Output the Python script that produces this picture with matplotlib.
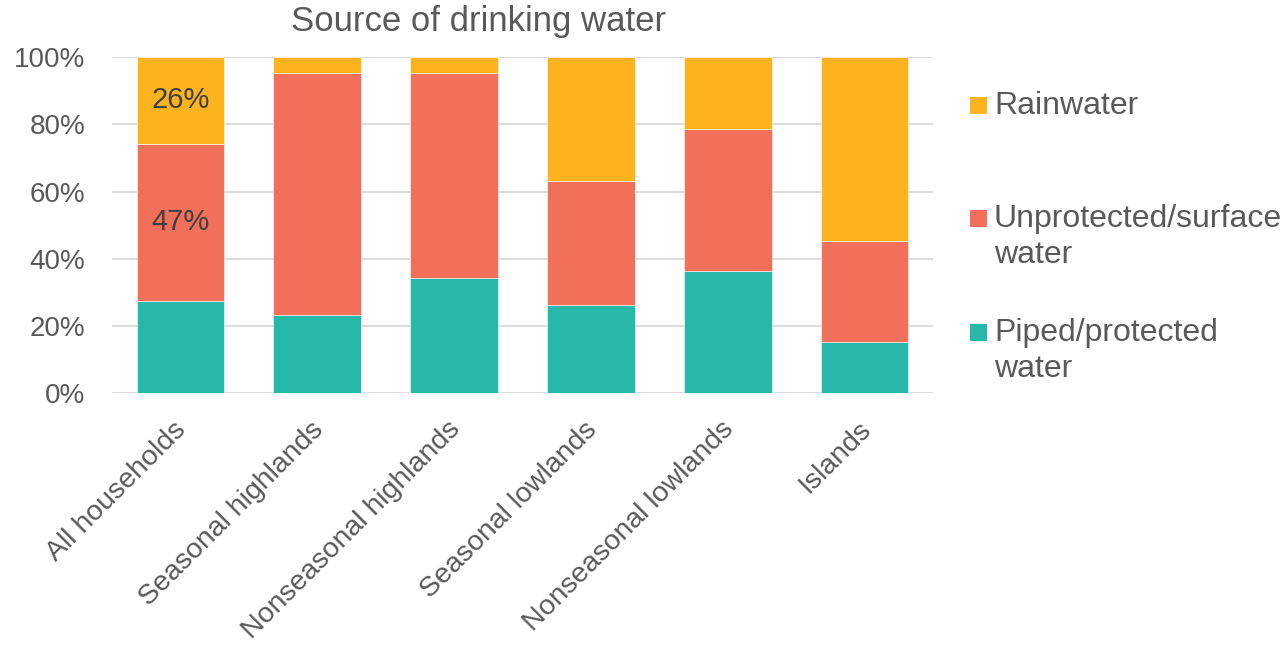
import matplotlib
matplotlib.use("Agg")
import matplotlib.pyplot as plt
import matplotlib.transforms as mtransforms
from matplotlib.patches import Rectangle

# ------------------------------------------------------------------ Daten
categories = ["All households", "Seasonal highlands", "Nonseasonal highlands",
              "Seasonal lowlands", "Nonseasonal lowlands", "Islands"]
piped       = [27.5, 23.2, 34.2, 26.4, 36.3, 15.2]
unprotected = [46.8, 72.1, 61.1, 36.9, 42.3, 30.2]
rainwater   = [25.7,  4.7,  4.7, 36.7, 21.4, 54.6]

series_names  = ["Piped/protected\nwater", "Unprotected/surface\nwater", "Rainwater"]
series_colors = ["#26B9A9", "#F2705A", "#FDB31D"]
yticks = [0, 20, 40, 60, 80, 100]
labelled_bar = 0   # nur "All households" hat Datenlabels (mittlere + obere Serie)

TEXT = "#595959"
plt.rcParams["font.family"] = ["Liberation Sans", "DejaVu Sans"]

fig = plt.figure(figsize=(12.86, 6.47), dpi=100)
ax = fig.add_axes([0.087, 0.392, 0.6385, 0.5196])

x = range(len(categories))
bottom = [0.0] * len(categories)
for vals, color in zip([piped, unprotected, rainwater], series_colors):
    ax.bar(x, vals, width=0.64, bottom=bottom, color=color, zorder=2,
           edgecolor="white", linewidth=0.4)
    bottom = [b + v for b, v in zip(bottom, vals)]

# Datenlabels
for vals, base in [(unprotected, piped[labelled_bar]),
                   (rainwater, piped[labelled_bar] + unprotected[labelled_bar])]:
    v = vals[labelled_bar]
    ax.text(labelled_bar, base + v / 2, f"{v:.0f}%", ha="center", va="center",
            fontsize=21, color="#404040", zorder=3)

ax.set_xlim(-0.5, len(categories) - 0.5)
ax.set_ylim(0, 100)
ax.set_yticks(yticks)
ax.set_yticklabels([f"{t}%" for t in yticks])
ax.yaxis.grid(True, color="#D9D9D9", linewidth=1.3, zorder=0)
ax.set_axisbelow(True)
for s in ax.spines.values():
    s.set_visible(False)
ax.tick_params(axis="both", length=0, labelcolor=TEXT)
ax.tick_params(axis="y", pad=19, labelsize=20)
ax.set_xticks(list(x))
ax.set_xticklabels(categories, rotation=45, ha="right", rotation_mode="anchor")
ax.tick_params(axis="x", pad=18, labelsize=20.5)
shift = mtransforms.ScaledTranslation(-7 / 100, 2 / 100, fig.dpi_scale_trans)
for lbl in ax.get_xticklabels():
    lbl.set_transform(lbl.get_transform() + shift)

fig.text(0.372, 1 - 22 / 647, "Source of drinking water", ha="center", va="center",
         fontsize=25, color=TEXT)

# Legende (Excel-Stil: Marker auf Hoehe der ersten Zeile)
W, H = fig.get_size_inches() * fig.dpi
leg_rows = [(2, 105), (1, 218), (0, 332)]
for idx, ypix in leg_rows:
    fig.add_artist(Rectangle((970 / W, 1 - (ypix + 8.5) / H), 17 / W, 17 / H,
                             transform=fig.transFigure,
                             facecolor=series_colors[idx], edgecolor="none"))
    fig.text(994 / W, 1 - (ypix - 14) / H, series_names[idx], ha="left", va="top",
             fontsize=23, color=TEXT, linespacing=1.25)

fig.savefig("out.png", dpi=100)
